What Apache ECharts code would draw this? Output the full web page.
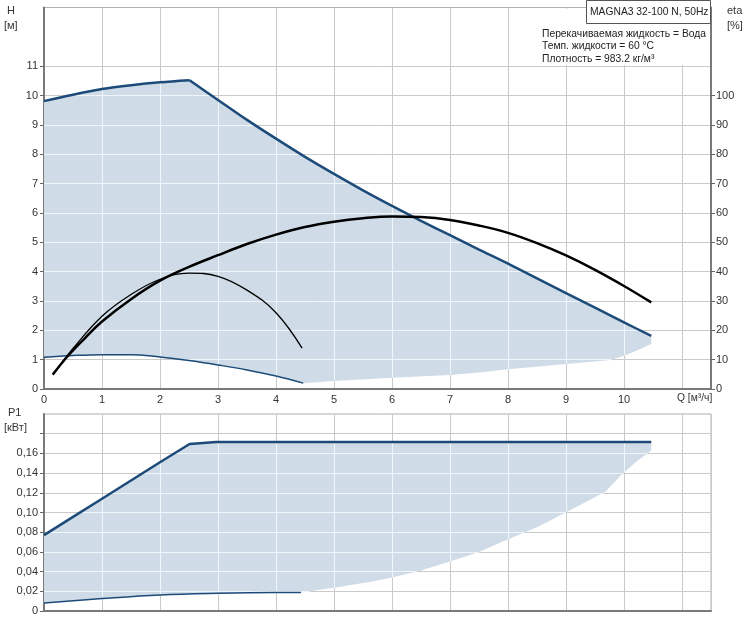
<!DOCTYPE html>
<html><head><meta charset="utf-8">
<script src="https://cdn.jsdelivr.net/npm/echarts@6/dist/echarts.min.js"></script>
<style>html,body{margin:0;padding:0;background:#fff}#c{width:751px;height:623px}</style>
</head><body><div id="c"></div>
<script>
// ---- tick labels ----
const qTicks = [0,1,2,3,4,5,6,7,8,9,10];
const hTicks = [0,1,2,3,4,5,6,7,8,9,10,11];
const etaTicks = [0,10,20,30,40,50,60,70,80,90,100];
const p1Ticks = [0,0.02,0.04,0.06,0.08,0.10,0.12,0.14,0.16];
const p1TickMarks = [0,0.02,0.04,0.06,0.08,0.10,0.12,0.14,0.16,0.18];

// ---- head H [m] vs Q [m3/h] ----
const hMax = [[0,9.81],[0.5,10.03],[1,10.22],[1.5,10.35],[2,10.45],[2.51,10.52],[3,9.85],[3.5,9.17],[4,8.53],[4.5,7.91],[5,7.33],[5.5,6.77],[6,6.24],[6.5,5.73],[7,5.24],[7.5,4.75],[8,4.27],[9,3.27],[10,2.27],[10.47,1.81]];
const hMin = [[0,1.08],[0.5,1.14],[1,1.17],[1.5,1.17],[2,1.09],[2.5,0.97],[3,0.82],[3.5,0.65],[4,0.44],[4.47,0.2]];
const hAreaBottom = [[4.47,0.2],[5,0.27],[6,0.38],[7,0.48],[7.5,0.56],[8,0.67],[9,0.85],[9.5,0.94],[9.77,0.99],[10.05,1.17],[10.3,1.38],[10.47,1.53]];

// ---- efficiency eta [%] ----
const etaMax = [[0.15,4.9],[0.4,11],[0.7,17.2],[1,23.0],[1.5,30.6],[2,36.9],[2.5,41.6],[3,45.6],[3.5,49.4],[4,52.6],[4.5,55.2],[5,57.0],[5.5,58.2],[6,58.8],[6.5,58.6],[7,57.6],[7.5,55.7],[8,53.2],[8.5,49.7],[9,45.5],[9.5,40.6],[10,35.1],[10.47,29.5]];
const etaMin = [[0.2,6],[0.5,13.8],[1,24.8],[1.5,32.2],[2,37.4],[2.5,39.5],[3,38.4],[3.5,33.7],[4,26],[4.45,13.9]];

// ---- power P1 [kW] ----
const p1Max = [[0,0.077],[0.5,0.0955],[1,0.114],[1.5,0.1325],[2,0.151],[2.51,0.1695],[2.97,0.1715],[10.47,0.1715]];
const p1Min = [[0,0.0081],[1,0.0126],[2,0.0163],[3,0.018],[4,0.0187],[4.43,0.0187]];
const p1AreaBottom = [[4.43,0.0187],[5,0.0235],[5.61,0.0295],[6,0.034],[6.5,0.041],[6.97,0.0498],[7.5,0.06],[7.96,0.0719],[8.5,0.085],[8.96,0.099],[9.35,0.111],[9.68,0.121],[9.95,0.138],[10.2,0.151],[10.47,0.163]];

// ---- styles ----
const FONT = 'Liberation Sans, Arial, sans-serif';
const FILL = '#cfdbe6';
const BLUE = '#1d4b79';
const GRIDC = '#cacaca';
const GRID_IN = 'rgba(246,249,252,0.85)';
const TXT = '#333';

const topPoly = hMax.concat(hMin.concat(hAreaBottom.slice(1)).slice().reverse());
const botPoly = p1Max.concat(p1Min.concat(p1AreaBottom.slice(1)).slice().reverse());

// split the max-speed head curve at its peak so the corner stays sharp
let peakIdx = 0;
hMax.forEach((p, i) => { if (p[1] > hMax[peakIdx][1]) peakIdx = i; });
const hMaxRise = hMax.slice(0, peakIdx + 1);
const hMaxFall = hMax.slice(peakIdx);

function crossings(poly, axis, v) {
  const out = [];
  for (let i = 0; i < poly.length; i++) {
    const a = poly[i], b = poly[(i + 1) % poly.length];
    const da = a[axis] - v, db = b[axis] - v;
    if ((da < 0 && db >= 0) || (db < 0 && da >= 0)) {
      const t = da / (da - db);
      out.push(a[1 - axis] + t * (b[1 - axis] - a[1 - axis]));
    }
  }
  return out.sort((x, y) => x - y);
}
function snap(p) {
  const d = Math.round(p * 2);
  return (d + 1) % 2 === 0 ? d / 2 : (d + 1) / 2;
}
function fillItem(poly) {
  return function (params, api) {
    return { type: 'polygon', silent: true, shape: { points: poly.map(p => api.coord(p)) }, style: { fill: FILL } };
  };
}
function gridOverlay(poly, xs, ys) {
  return function (params, api) {
    const children = [];
    xs.forEach(q => {
      const c = crossings(poly, 0, q);
      for (let i = 0; i + 1 < c.length; i += 2) {
        const a = api.coord([q, c[i]]), b = api.coord([q, c[i + 1]]);
        const x = snap(a[0]);
        children.push({ type: 'line', silent: true, shape: { x1: x, y1: a[1], x2: x, y2: b[1] }, style: { stroke: GRID_IN, lineWidth: 1 } });
      }
    });
    ys.forEach(h => {
      const c = crossings(poly, 1, h);
      for (let i = 0; i + 1 < c.length; i += 2) {
        const a = api.coord([c[i], h]), b = api.coord([c[i + 1], h]);
        const y = snap(a[1]);
        children.push({ type: 'line', silent: true, shape: { x1: a[0], y1: y, x2: b[0], y2: y }, style: { stroke: GRID_IN, lineWidth: 1 } });
      }
    });
    return { type: 'group', children };
  };
}

const chart = echarts.init(document.getElementById('c'));
const lbl = { color: TXT, fontSize: 11, fontFamily: FONT };
const axLine = { show: true, onZero: false, lineStyle: { color: '#7a7a7a', width: 2 } };
const tick = vals => ({ show: true, length: 4, customValues: vals, lineStyle: { color: '#666' } });
const SMALL = '10.3px ' + FONT;

chart.setOption({
  animation: false,
  backgroundColor: '#fff',
  grid: [
    { left: 44, right: 40, top: 7.5, bottom: 234, containLabel: false, show: true, borderColor: '#b0b0b0', borderWidth: 1 },
    { left: 44, right: 40, top: 414, bottom: 12, containLabel: false, show: true, borderColor: '#b0b0b0', borderWidth: 1 }
  ],
  xAxis: [
    { type: 'value', gridIndex: 0, min: 0, max: 11.5, interval: 1,
      axisLine: axLine, axisTick: { show: false },
      axisLabel: Object.assign({ margin: 5, customValues: qTicks, formatter: v => String(v) }, lbl),
      splitLine: { show: true, lineStyle: { color: GRIDC, width: 1 } } },
    { type: 'value', gridIndex: 1, min: 0, max: 11.5, interval: 1,
      axisLine: axLine, axisTick: { show: false }, axisLabel: { show: false },
      splitLine: { show: true, lineStyle: { color: GRIDC, width: 1 } } }
  ],
  yAxis: [
    { type: 'value', gridIndex: 0, min: 0, max: 13, interval: 1, position: 'left',
      axisLine: axLine, axisTick: tick(hTicks),
      axisLabel: Object.assign({ margin: 6, customValues: hTicks, formatter: v => String(v) }, lbl),
      splitLine: { show: true, lineStyle: { color: GRIDC, width: 1 } } },
    { type: 'value', gridIndex: 0, min: 0, max: 130, interval: 10, position: 'right',
      axisLine: axLine, axisTick: tick(etaTicks),
      axisLabel: Object.assign({ margin: 5, customValues: etaTicks, formatter: v => String(v) }, lbl),
      splitLine: { show: false } },
    { type: 'value', gridIndex: 1, min: 0, max: 0.2, interval: 0.02, position: 'left',
      axisLine: axLine, axisTick: tick(p1TickMarks),
      axisLabel: Object.assign({ margin: 6, customValues: p1Ticks, formatter: v => (Math.abs(v) < 1e-9 ? '0' : v.toFixed(2).replace('.', ',')) }, lbl),
      splitLine: { show: true, lineStyle: { color: GRIDC, width: 1 } } }
  ],
  graphic: [
    { type: 'rect', z: 100, silent: true, shape: { x: 538, y: 9, width: 172, height: 56 }, style: { fill: '#fff' } },
    { type: 'rect', z: 101, silent: true, shape: { x: 586.5, y: 0.5, width: 124, height: 23 }, style: { fill: '#fff', stroke: '#555', lineWidth: 1 } },
    { type: 'text', z: 102, left: 590, top: 7, style: { text: 'MAGNA3 32-100 N, 50Hz', font: SMALL, fill: '#222' } },
    { type: 'text', z: 102, left: 542, top: 29, style: { text: 'Перекачиваемая жидкость = Вода', font: SMALL, fill: '#222' } },
    { type: 'text', z: 102, left: 542, top: 41, style: { text: 'Темп. жидкости = 60 °C', font: SMALL, fill: '#222' } },
    { type: 'text', z: 102, left: 542, top: 54, style: { text: 'Плотность = 983.2 кг/м³', font: SMALL, fill: '#222' } },
    { type: 'text', z: 102, left: 7, top: 5, style: { text: 'H', font: '11px ' + FONT, fill: TXT } },
    { type: 'text', z: 102, left: 4, top: 20, style: { text: '[м]', font: '11px ' + FONT, fill: TXT } },
    { type: 'text', z: 102, left: 727, top: 5, style: { text: 'eta', font: '11px ' + FONT, fill: TXT } },
    { type: 'text', z: 102, left: 727, top: 20, style: { text: '[%]', font: '11px ' + FONT, fill: TXT } },
    { type: 'text', z: 102, left: 8, top: 407, style: { text: 'P1', font: '11px ' + FONT, fill: TXT } },
    { type: 'text', z: 102, left: 4, top: 422, style: { text: '[кВт]', font: '11px ' + FONT, fill: TXT } },
    { type: 'text', z: 102, left: 677, top: 393, style: { text: 'Q [м³/ч]', font: SMALL, fill: TXT } }
  ],
  series: [
    { type: 'custom', xAxisIndex: 0, yAxisIndex: 0, z: 1, silent: true, clip: false, data: [[0, 0]], renderItem: fillItem(topPoly) },
    { type: 'custom', xAxisIndex: 0, yAxisIndex: 0, z: 2, silent: true, clip: false, data: [[0, 0]], renderItem: gridOverlay(topPoly, [1,2,3,4,5,6,7,8,9,10,11], [1,2,3,4,5,6,7,8,9,10,11,12]) },
    { type: 'line', xAxisIndex: 0, yAxisIndex: 0, z: 3, data: hMaxRise, smooth: 0.3, showSymbol: false, lineStyle: { color: BLUE, width: 2.5 } },
    { type: 'line', xAxisIndex: 0, yAxisIndex: 0, z: 3, data: hMaxFall, smooth: 0.3, showSymbol: false, lineStyle: { color: BLUE, width: 2.5 } },
    { type: 'line', xAxisIndex: 0, yAxisIndex: 0, z: 3, data: hMin, smooth: 0.4, showSymbol: false, lineStyle: { color: BLUE, width: 1.5 } },
    { type: 'line', xAxisIndex: 0, yAxisIndex: 1, z: 4, data: etaMax, smooth: 0.4, showSymbol: false, lineStyle: { color: '#000', width: 2.5 } },
    { type: 'line', xAxisIndex: 0, yAxisIndex: 1, z: 4, data: etaMin, smooth: 0.4, showSymbol: false, lineStyle: { color: '#000', width: 1.3 } },
    { type: 'custom', xAxisIndex: 1, yAxisIndex: 2, z: 1, silent: true, clip: false, data: [[0, 0]], renderItem: fillItem(botPoly) },
    { type: 'custom', xAxisIndex: 1, yAxisIndex: 2, z: 2, silent: true, clip: false, data: [[0, 0]], renderItem: gridOverlay(botPoly, [1,2,3,4,5,6,7,8,9,10,11], [0.02,0.04,0.06,0.08,0.10,0.12,0.14,0.16,0.18]) },
    { type: 'line', xAxisIndex: 1, yAxisIndex: 2, z: 3, data: p1Max, showSymbol: false, lineStyle: { color: BLUE, width: 2.5 } },
    { type: 'line', xAxisIndex: 1, yAxisIndex: 2, z: 3, data: p1Min, smooth: 0.4, showSymbol: false, lineStyle: { color: BLUE, width: 1.5 } }
  ]
});
</script>
</body></html>
